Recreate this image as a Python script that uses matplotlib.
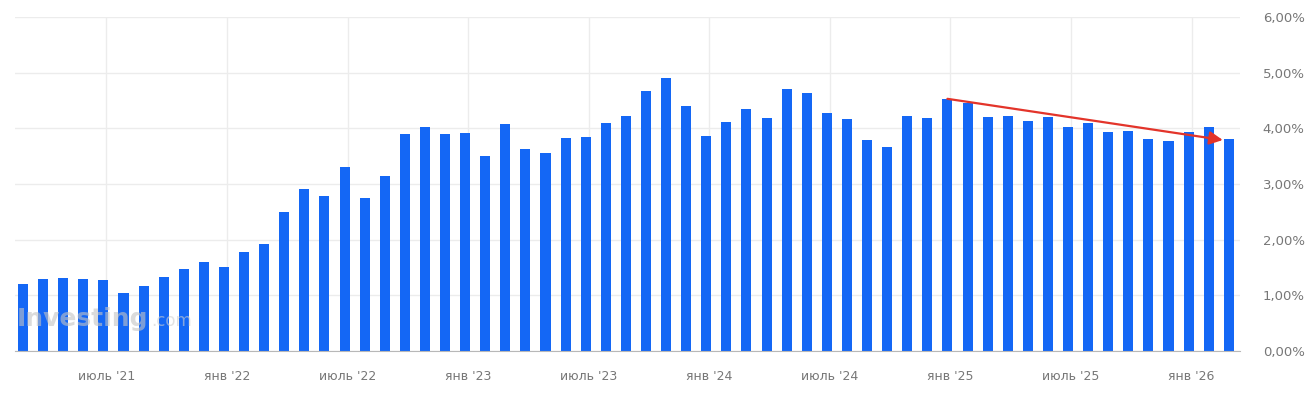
import matplotlib.pyplot as plt
from matplotlib.ticker import FuncFormatter

# monthly values, March 2021 .. March 2026 (percent)
values = [
    1.20, 1.29, 1.32, 1.29, 1.28, 1.05, 1.16, 1.33, 1.47, 1.59,
    1.50, 1.78, 1.92, 2.49, 2.91, 2.78, 3.30, 2.74, 3.14, 3.90,
    4.02, 3.89, 3.92, 3.51, 4.07, 3.62, 3.56, 3.83, 3.85, 4.10,
    4.23, 4.67, 4.91, 4.40, 3.87, 4.11, 4.34, 4.18, 4.71, 4.64,
    4.27, 4.16, 3.79, 3.67, 4.23, 4.18, 4.53, 4.45, 4.20, 4.22,
    4.14, 4.20, 4.02, 4.09, 3.93, 3.96, 3.80, 3.78, 3.93, 4.02,
    3.80,
]
# index of month in values where each label sits
tick_months = [4, 10, 16, 22, 28, 34, 40, 46, 52, 58]
tick_labels = ["июль '21", "янв '22", "июль '22", "янв '23", "июль '23",
               "янв '24", "июль '24", "янв '25", "июль '25", "янв '26"]
y_ticks = [0, 1, 2, 3, 4, 5, 6]

# trend arrow: from the Jan '25 peak to the last bar
arrow_start = (46, 4.53)
arrow_end = (59.7, 3.79)

fig = plt.figure(figsize=(13.12, 3.95), dpi=100)
ax = fig.add_axes([0.0114, 0.1114, 0.9336, 0.8456])

x = list(range(len(values)))
ax.bar(x, values, width=0.5, color='#1467f5', zorder=3)

ax.set_xlim(-0.4, 60.55)
ax.set_ylim(0, 6)

ax.set_xticks([m + 0.15 for m in tick_months])
ax.set_xticklabels(tick_labels)
ax.set_yticks(y_ticks)
ax.yaxis.set_major_formatter(FuncFormatter(lambda v, p: f"{v:.2f}%".replace('.', ',')))
ax.yaxis.tick_right()

ax.tick_params(axis='x', length=0, pad=14, labelsize=9, labelcolor='#777777')
ax.tick_params(axis='y', length=0, pad=16.5, labelsize=9.5, labelcolor='#777777')
for lbl in ax.get_yticklabels():
    lbl.set_horizontalalignment('left')

ax.grid(True, color='#ececec', linewidth=1, zorder=0)
for side in ['top', 'right', 'left']:
    ax.spines[side].set_visible(False)
ax.spines['bottom'].set_color('#b8b8b8')
ax.spines['bottom'].set_zorder(4)

# watermark
ax.text(0.0015, 0.075, "Investing", transform=ax.transAxes, fontsize=18,
        fontweight='bold', color='#c4c4c4', alpha=0.6, zorder=5)
ax.text(0.111, 0.075, ".com", transform=ax.transAxes, fontsize=12,
        color='#d0d0d0', alpha=0.6, zorder=5)

ax.annotate("", xy=arrow_end, xytext=arrow_start,
            arrowprops=dict(arrowstyle='-|>', color='#e3342a', lw=1.6,
                            mutation_scale=20, shrinkA=0, shrinkB=0),
            zorder=6)

fig.savefig("out.png", dpi=100)
